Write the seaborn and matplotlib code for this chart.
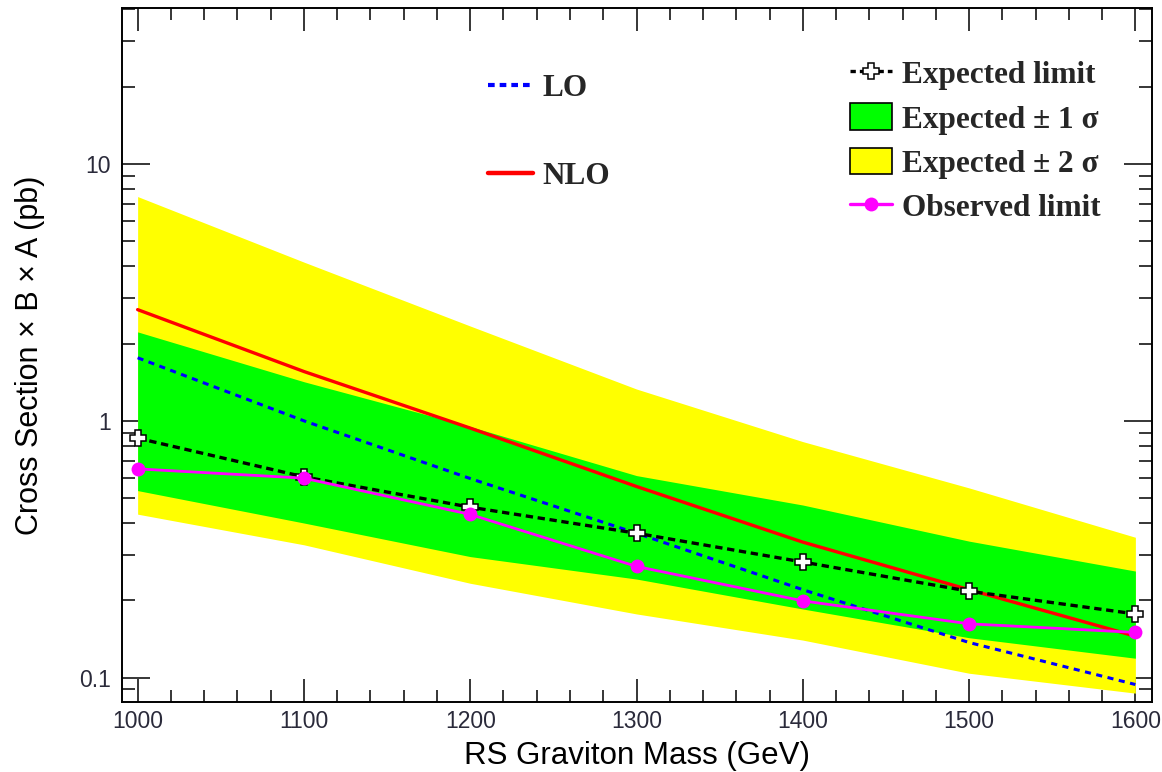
import numpy as np
import pandas as pd
import matplotlib
matplotlib.use("Agg")
import matplotlib.pyplot as plt
import seaborn as sns
from matplotlib.lines import Line2D
from matplotlib.patches import Patch
from matplotlib.ticker import FixedLocator, MultipleLocator, LogLocator, NullFormatter, FixedFormatter

# ---------------- data ----------------
mass = [1000, 1100, 1200, 1300, 1400, 1500, 1600]
expected = [0.856, 0.605, 0.461, 0.365, 0.282, 0.217, 0.177]
observed = [0.650, 0.598, 0.432, 0.271, 0.199, 0.162, 0.150]
band1_hi = [2.22, 1.42, 0.95, 0.612, 0.47, 0.34, 0.26]
band1_lo = [0.535, 0.40, 0.296, 0.242, 0.185, 0.143, 0.119]
band2_hi = [7.47, 4.15, 2.34, 1.33, 0.83, 0.548, 0.352]
band2_lo = [0.433, 0.329, 0.233, 0.177, 0.140, 0.104, 0.087]
lo_xsec = [1.76, 1.00, 0.596, 0.365, 0.22, 0.137, 0.094]
nlo_xsec = [2.71, 1.556, 0.937, 0.555, 0.337, 0.22, 0.145]

x_ticks = [1000, 1100, 1200, 1300, 1400, 1500, 1600]
x_tick_labels = ["1000", "1100", "1200", "1300", "1400", "1500", "1600"]
y_ticks = [0.1, 1, 10]
y_tick_labels = ["0.1", "1", "10"]

label_exp = "Expected limit"
label_b1 = "Expected \u00b1 1 \u03c3"
label_b2 = "Expected \u00b1 2 \u03c3"
label_obs = "Observed limit"
label_lo = "LO"
label_nlo = "NLO"
x_label = "RS Graviton Mass (GeV)"
y_label = "Cross Section \u00d7 B \u00d7 A (pb)"

df = pd.DataFrame({"mass": mass, "expected": expected, "observed": observed,
                   "b1_hi": band1_hi, "b1_lo": band1_lo, "b2_hi": band2_hi,
                   "b2_lo": band2_lo, "lo": lo_xsec, "nlo": nlo_xsec})

# ---------------- style ----------------
sns.set_style("ticks")
plt.rcParams["font.family"] = ["Liberation Sans", "DejaVu Sans"]

fig = plt.figure(figsize=(11.62, 7.72), dpi=100)
ax = fig.add_axes([0.1047, 0.0911, 0.8867, 0.8985])

YELLOW = "#ffff00"
GREEN = "#00ff00"

ax.fill_between(df["mass"], df["b2_lo"], df["b2_hi"], color=YELLOW, lw=0, zorder=1)
ax.fill_between(df["mass"], df["b1_lo"], df["b1_hi"], color=GREEN, lw=0, zorder=2)

sns.lineplot(data=df, x="mass", y="lo", ax=ax, color="#0000ff", lw=2.2,
             linestyle=(0, (2.0, 1.8)), zorder=3)
sns.lineplot(data=df, x="mass", y="nlo", ax=ax, color="#ff0000", lw=2.4, zorder=3)
sns.lineplot(data=df, x="mass", y="expected", ax=ax, color="black", lw=2.4,
             linestyle=(0, (2.2, 1.4)), marker="P", markersize=11,
             markerfacecolor="white", markeredgecolor="black", markeredgewidth=1.1,
             zorder=4)
sns.lineplot(data=df, x="mass", y="observed", ax=ax, color="#ff00ff", lw=2.0,
             marker="o", markersize=10, markeredgewidth=0, zorder=5)

ax.set_yscale("log")
ax.set_xlim(990.4, 1610)
ax.set_ylim(0.0806, 40.5)

ax.xaxis.set_major_locator(FixedLocator(x_ticks))
ax.xaxis.set_major_formatter(FixedFormatter(x_tick_labels))
ax.xaxis.set_minor_locator(MultipleLocator(20))
ax.yaxis.set_major_locator(FixedLocator(y_ticks))
ax.yaxis.set_major_formatter(FixedFormatter(y_tick_labels))
ax.yaxis.set_minor_locator(LogLocator(base=10, subs=np.arange(2, 10)))
ax.yaxis.set_minor_formatter(NullFormatter())

tick_color = "#2a2a3a"
ax.tick_params(axis="both", which="both", direction="in", top=True, right=True,
               colors="black", width=1.1, labelcolor=tick_color, labelsize=16.5)
ax.tick_params(axis="x", which="major", length=16.5, pad=6)
ax.tick_params(axis="x", which="minor", length=8.5)
ax.tick_params(axis="y", which="major", length=20, pad=8)
ax.tick_params(axis="y", which="minor", length=9.5)
for s in ax.spines.values():
    s.set_linewidth(1.4)
    s.set_color("black")

ax.set_xlabel(x_label, fontsize=22.5, color="black", labelpad=6)
ax.set_ylabel(y_label, fontsize=22, color="black", labelpad=24)

# ---------------- legends ----------------
leg_font = {"family": ["Liberation Serif", "DejaVu Serif"], "weight": "bold", "size": 22.5}
h_exp = Line2D([], [], color="black", lw=2.4, linestyle=(0, (1.6, 1.2)), marker="P",
               markersize=11, markerfacecolor="white", markeredgecolor="black",
               markeredgewidth=1.1)
h_b1 = Patch(facecolor=GREEN, edgecolor="black", lw=1.2)
h_b2 = Patch(facecolor=YELLOW, edgecolor="black", lw=1.2)
h_obs = Line2D([], [], color="#ff00ff", lw=2.4, marker="o", markersize=10, markeredgewidth=0)
leg1 = ax.legend([h_exp, h_b1, h_b2, h_obs], [label_exp, label_b1, label_b2, label_obs],
                 loc="upper left", bbox_to_anchor=(0.7069, 0.9265), frameon=False,
                 prop=leg_font, handlelength=1.33, handleheight=0.93, handletextpad=0.32,
                 labelspacing=0.43, borderpad=0, borderaxespad=0)
ax.add_artist(leg1)

h_lo = Line2D([], [], color="#0000ff", lw=3.0, linestyle=(0, (1.6, 1.2)))
h_nlo = Line2D([], [], color="#ff0000", lw=3.2)
leg2 = ax.legend([h_lo, h_nlo], [label_lo, label_nlo], loc="upper left",
                 bbox_to_anchor=(0.3555, 0.905), frameon=False, prop=leg_font,
                 handlelength=1.45, handletextpad=0.3, labelspacing=1.9,
                 borderpad=0, borderaxespad=0)

fig.savefig("out.png", dpi=100)
